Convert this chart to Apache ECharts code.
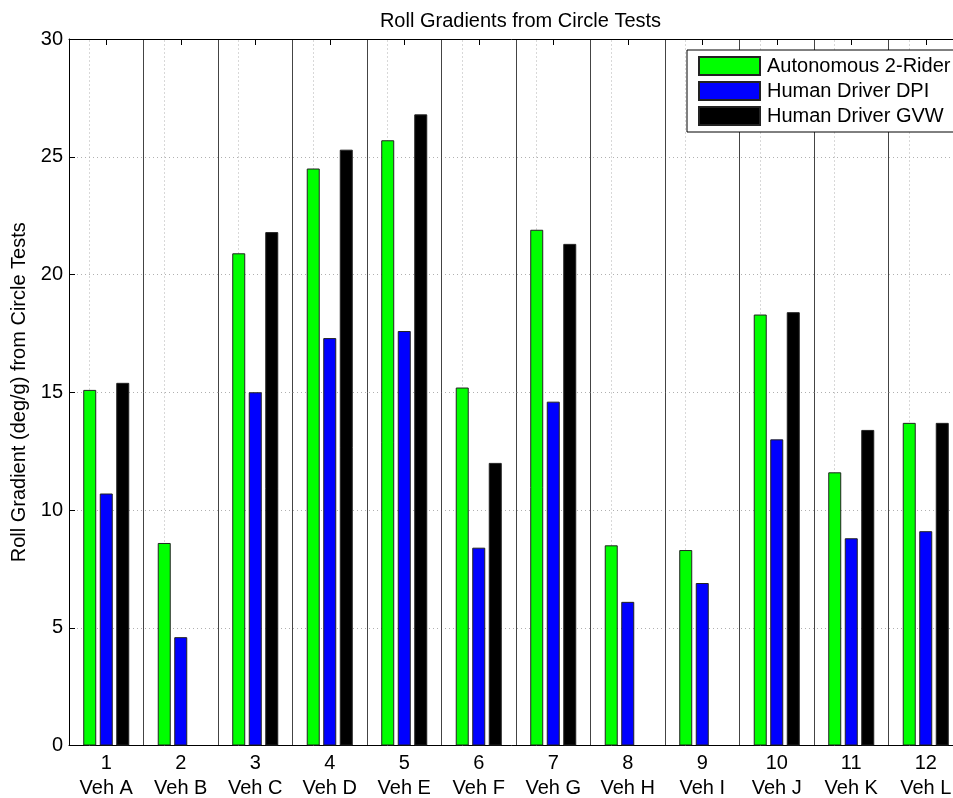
<!DOCTYPE html>
<html>
<head>
<meta charset="utf-8">
<title>Roll Gradients from Circle Tests</title>
<script src="https://cdn.jsdelivr.net/npm/echarts@6/dist/echarts.min.js"></script>
<style>
  html, body { margin: 0; padding: 0; background: #fff; }
  #chart { width: 953px; height: 798px; }
</style>
</head>
<body>
<div id="chart"></div>
<script>
// category ticks and vehicle names (two-line x labels)
const tickNumbers = ['1', '2', '3', '4', '5', '6', '7', '8', '9', '10', '11', '12'];
const vehicles = ['Veh A', 'Veh B', 'Veh C', 'Veh D', 'Veh E', 'Veh F',
                  'Veh G', 'Veh H', 'Veh I', 'Veh J', 'Veh K', 'Veh L'];

// roll gradient (deg/g) per vehicle
const autonomous2Rider = [15.1, 8.6, 20.9, 24.5, 25.7, 15.2, 21.9, 8.5, 8.3, 18.3, 11.6, 13.7];
const humanDriverDPI   = [10.7, 4.6, 15.0, 17.3, 17.6, 8.4, 14.6, 6.1, 6.9, 13.0, 8.8, 9.1];
const humanDriverGVW   = [15.4, null, 21.8, 25.3, 26.8, 12.0, 21.3, null, null, 18.4, 13.4, 13.7];

const seriesNames = ['Autonomous 2-Rider', 'Human Driver DPI', 'Human Driver GVW'];
const yTicks = [0, 5, 10, 15, 20, 25, 30];

const FONT = 'Liberation Sans, Arial, sans-serif';

const chart = echarts.init(document.getElementById('chart'));

function barSeries(name, data, color) {
    return {
        name: name,
        type: 'bar',
        data: data,
        barWidth: 13,
        barGap: '27%',
        itemStyle: { color: color, borderColor: '#222', borderWidth: 1 },
        z: 3
    };
}

const series = [
    barSeries(seriesNames[0], autonomous2Rider, '#00ff00'),
    barSeries(seriesNames[1], humanDriverDPI, '#0000ff'),
    barSeries(seriesNames[2], humanDriverGVW, '#000000')
];

// dotted vertical grid lines through category centres
series[0].markLine = {
    silent: true,
    symbol: 'none',
    z: 1,
    label: { show: false },
    lineStyle: { color: '#b0b0b0', type: [1, 3], width: 1 },
    emphasis: { disabled: true },
    data: tickNumbers.map(t => ({ xAxis: t }))
};

const option = {
    backgroundColor: '#fff',
    animation: false,
    title: {
        text: 'Roll Gradients from Circle Tests',
        left: 515.5,
        textAlign: 'center',
        top: 6,
        textStyle: { fontFamily: FONT, fontSize: 20, fontWeight: 'normal', color: '#000' }
    },
    legend: {
        data: seriesNames,
        orient: 'vertical',
        left: 687,
        top: 50,
        padding: [6, 8, 6, 11],
        itemWidth: 61,
        itemHeight: 18,
        itemGap: 5,
        icon: 'rect',
        borderColor: '#000',
        borderWidth: 1,
        backgroundColor: '#fff',
        textStyle: { fontFamily: FONT, fontSize: 20, color: '#000', padding: [0, 0, 0, 2] }
    },
    grid: {
        left: 69,
        top: 39,
        width: 894,
        height: 706.5,
        outerBoundsMode: 'none'
    },
    xAxis: [
        {
            type: 'category',
            data: tickNumbers,
            boundaryGap: true,
            axisLine: { lineStyle: { color: '#000', width: 1 } },
            axisTick: { show: true, inside: true, alignWithLabel: true, length: 6, lineStyle: { color: '#000' } },
            axisLabel: {
                fontFamily: FONT,
                fontSize: 20,
                color: '#000',
                margin: 5,
                lineHeight: 25,
                formatter: function (value, idx) {
                    return value + '\n' + vehicles[idx];
                }
            },
            splitLine: { show: true, lineStyle: { color: '#444', width: 1 } }
        },
        {
            type: 'category',
            data: tickNumbers,
            position: 'top',
            boundaryGap: true,
            axisLine: { lineStyle: { color: '#000', width: 1 } },
            axisTick: { show: true, inside: true, alignWithLabel: true, length: 6, lineStyle: { color: '#000' } },
            axisLabel: { show: false },
            splitLine: { show: false }
        }
    ],
    yAxis: {
        type: 'value',
        min: yTicks[0],
        max: yTicks[yTicks.length - 1],
        interval: 5,
        name: 'Roll Gradient (deg/g) from Circle Tests',
        nameLocation: 'middle',
        nameGap: 33,
        nameTextStyle: { fontFamily: FONT, fontSize: 20, color: '#000' },
        axisLine: { show: true, lineStyle: { color: '#000', width: 1 } },
        axisTick: { show: true, inside: true, length: 6, lineStyle: { color: '#000' } },
        axisLabel: { fontFamily: FONT, fontSize: 20, color: '#000', margin: 6 },
        splitLine: { show: true, lineStyle: { color: '#b0b0b0', type: [1, 3], width: 1 } }
    },
    series: series
};

chart.setOption(option);
</script>
</body>
</html>
